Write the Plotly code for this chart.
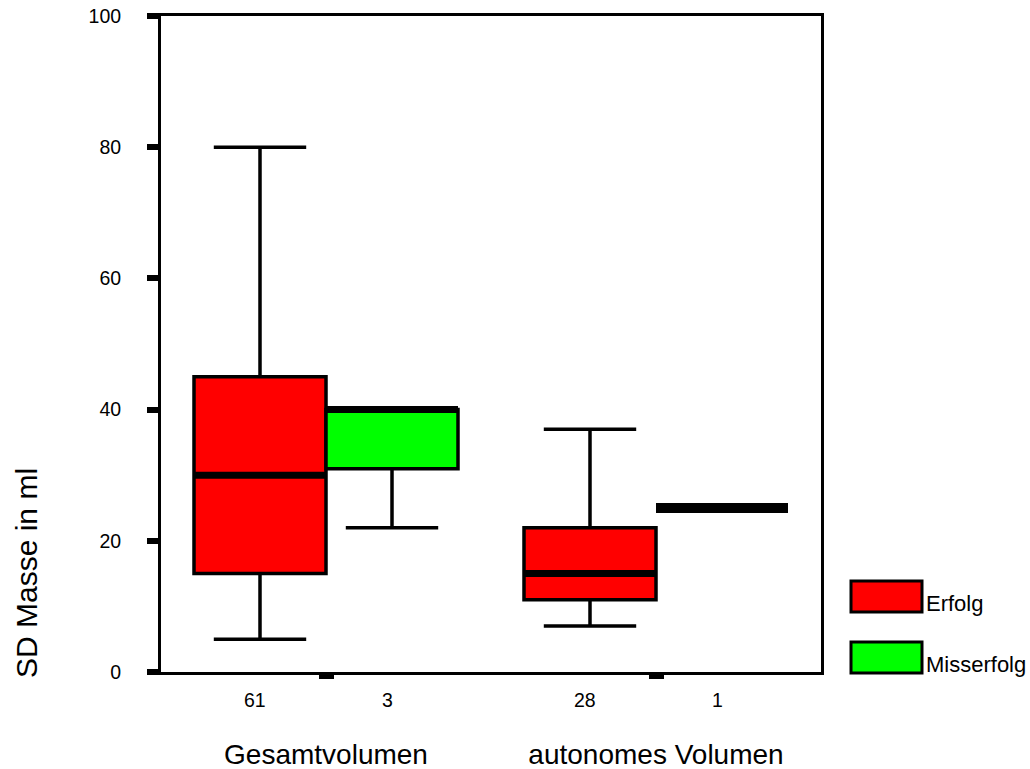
import plotly.graph_objects as go

# ---- data ----
groups = ["Gesamtvolumen", "autonomes Volumen"]
series = ["Erfolg", "Misserfolg"]
colors = {"Erfolg": "#FF0000", "Misserfolg": "#00FF00"}

erfolg_lower = [5, 7]
erfolg_q1 = [15, 11]
erfolg_median = [30, 15]
erfolg_q3 = [45, 22]
erfolg_upper = [80, 37]
erfolg_n = ["61", "28"]

miss_lower = [22, 25]
miss_q1 = [31, 25]
miss_median = [40, 25]
miss_q3 = [40, 25]
miss_upper = [40, 25]
miss_n = ["3", "1"]

y_ticks = [0, 20, 40, 60, 80, 100]

FONT = "Arial, Liberation Sans, sans-serif"
offset = 0.2
bw = 0.4

stats = {
    "Erfolg": (erfolg_lower, erfolg_q1, erfolg_median, erfolg_q3, erfolg_upper, erfolg_n, -offset),
    "Misserfolg": (miss_lower, miss_q1, miss_median, miss_q3, miss_upper, miss_n, offset),
}

fig = go.Figure()
annotations = []
for s in series:
    lo, q1, med, q3, up, n, off = stats[s]
    xs = [i + off for i in range(len(groups))]
    fig.add_trace(go.Box(
        x=xs, q1=q1, median=med, q3=q3, lowerfence=lo, upperfence=up,
        width=bw, whiskerwidth=0.7, fillcolor=colors[s],
        line=dict(color="black", width=3.5), name=s, showlegend=False,
        boxpoints=False, hoverinfo="skip",
    ))
    # thick median bars
    for x, m, q1v, q3v in zip(xs, med, q1, q3):
        fig.add_trace(go.Scatter(
            x=[x - bw / 2, x + bw / 2], y=[m, m], mode="lines",
            line=dict(color="black", width=10 if q1v == q3v else 7),
            showlegend=False, hoverinfo="skip",
        ))
    for x, label in zip(xs, n):
        annotations.append(dict(
            x=x, xref="x", y=0, yref="paper", text=label, showarrow=False,
            xanchor="center", yanchor="middle", yshift=-28, xshift=-5,
            font=dict(family=FONT, size=19.5, color="black"),
        ))

L, R, T, B = 161, 209, 16, 97
W, H = 1030, 769
pw, ph = W - L - R, H - T - B


def px(xp):
    return (xp - L) / pw


def py(yp):
    return (H - B - yp) / ph


# y-axis title
annotations.append(dict(
    x=px(26), xref="paper", y=py(573), yref="paper", text="SD Masse in ml",
    showarrow=False, textangle=-90, xanchor="center", yanchor="middle",
    font=dict(family=FONT, size=30, color="black"),
))

# legend drawn manually
shapes = []
legend_rows = [("Erfolg", 581, 612), ("Misserfolg", 642, 673)]
for name, y0, y1 in legend_rows:
    shapes.append(dict(
        type="rect", xref="paper", yref="paper",
        x0=px(851), x1=px(922), y0=py(y1), y1=py(y0),
        fillcolor=colors[name], line=dict(color="black", width=3),
    ))
    annotations.append(dict(
        x=px(924), xref="paper", y=py(y1 - 9), yref="paper", text=name,
        showarrow=False, xanchor="left", yanchor="middle",
        font=dict(family=FONT, size=22, color="black"),
    ))

fig.update_layout(
    width=W, height=H,
    margin=dict(l=L, r=R, t=T, b=B, pad=0, autoexpand=False),
    paper_bgcolor="white", plot_bgcolor="white",
    showlegend=False,
    xaxis=dict(
        range=[-0.5, 1.5], tickvals=list(range(len(groups))), ticktext=groups,
        showgrid=False, zeroline=False, showline=True, mirror=True,
        linecolor="black", linewidth=3, automargin=False,
        ticks="outside", ticklen=4, tickwidth=15, tickcolor="black",
        ticklabelstandoff=51,
        tickfont=dict(family=FONT, size=28, color="black"),
    ),
    yaxis=dict(
        range=[0, 100], tickvals=y_ticks,
        showgrid=False, zeroline=False, showline=True, mirror=True,
        linecolor="black", linewidth=3, automargin=False,
        ticks="outside", ticklen=11, tickwidth=6, tickcolor="black",
        ticklabelstandoff=22,
        tickfont=dict(family=FONT, size=19.5, color="black"),
    ),
    annotations=annotations,
    shapes=shapes,
)

fig.write_html("out.html")
